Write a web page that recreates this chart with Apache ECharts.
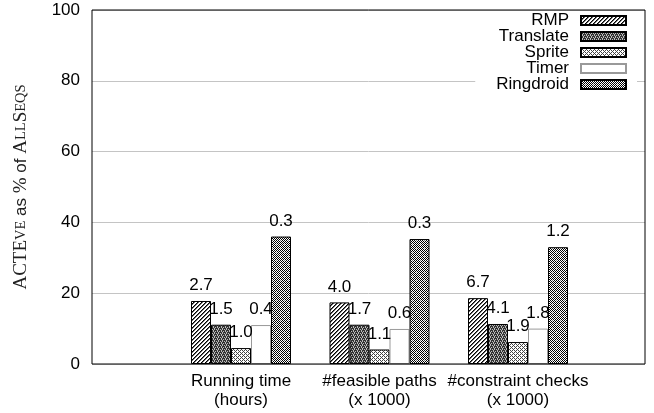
<!DOCTYPE html>
<html><head><meta charset="utf-8">
<script src="https://cdn.jsdelivr.net/npm/echarts@6/dist/echarts.min.js"></script>
<style>html,body{margin:0;padding:0;background:#fff}#c{width:654px;height:413px}</style>
</head><body><div id="c"></div>
<script>
const categories = ['Running time\n(hours)', '#feasible paths\n(x 1000)', '#constraint checks\n(x 1000)'];
const seriesNames = ['RMP', 'Translate', 'Sprite', 'Timer', 'Ringdroid'];
const rmp = [17.8, 17.4, 18.6];
const translate = [11.1, 11.1, 11.3];
const sprite = [4.5, 4.1, 6.2];
const timer = [11.0, 9.9, 10.0];
const ringdroid = [36.0, 35.3, 33.0];
const rmpLabels = ['2.7', '4.0', '6.7'];
const translateLabels = ['1.5', '1.7', '4.1'];
const spriteLabels = ['1.0', '1.1', '1.9'];
const timerLabels = ['0.4', '0.6', '1.8'];
const ringdroidLabels = ['0.3', '0.3', '1.2'];
const yTicks = [0, 20, 40, 60, 80, 100];

function makePattern(size, fn) {
  const cv = document.createElement('canvas');
  cv.width = size; cv.height = size;
  const ctx = cv.getContext('2d');
  ctx.fillStyle = '#fff'; ctx.fillRect(0, 0, size, size);
  for (let y = 0; y < size; y++) for (let x = 0; x < size; x++) {
    const c = fn(x, y);
    if (c) { ctx.fillStyle = c; ctx.fillRect(x, y, 1, 1); }
  }
  return { image: cv, repeat: 'repeat' };
}
const bayer = [[0, 8, 2, 10], [12, 4, 14, 6], [3, 11, 1, 9], [15, 7, 13, 5]];
const patRMP = makePattern(4, (x, y) => { const d = (x + y) % 4; return d === 3 ? '#000' : (d === 0 ? '#666' : null); });
const patTranslate = makePattern(4, (x, y) => {
  const t = ['##.#', '.#.#', '#.##', '#.#.'];
  return t[y][x] === '#' ? '#333' : '#bbb';
});
const patSprite = makePattern(4, (x, y) => (bayer[y][x] < 6 ? '#444' : null));
const patTimer = '#fff';
const patRing = makePattern(8, (x, y) => {
  if ((x === 0 && y === 0) || (x === 4 && y === 4)) return '#777';
  const e = Math.min(x + y, Math.abs(x - 4) + Math.abs(y - 4), Math.abs(x - 8) + Math.abs(y - 8),
                     Math.abs(x - 8) + y, x + Math.abs(y - 8));
  if (e === 1) return null;
  return (x + y) % 2 === 0 ? '#000' : null;
});

const fills = [patRMP, patTranslate, patSprite, patTimer, patRing];
const borders = ['#000', '#000', '#000', '#999', '#000'];
const values = [rmp, translate, sprite, timer, ringdroid];
const labels = [rmpLabels, translateLabels, spriteLabels, timerLabels, ringdroidLabels];

const font = 'Liberation Sans, Arial, sans-serif';
const fs = 17;
const series = seriesNames.map((n, i) => ({
  name: n, type: 'bar', xAxisIndex: 1, yAxisIndex: 1,
  data: values[i], barWidth: 20, barGap: '0%',
  itemStyle: { color: fills[i], borderColor: borders[i], borderWidth: 1 },
  label: { show: true, position: 'top', distance: 7, color: '#000', fontSize: fs, fontFamily: font,
           formatter: p => labels[i][p.dataIndex] },
  animation: false
}));

const legendTops = [11, 27, 43, 59, 71];
const legends = seriesNames.map((n, i) => ({
  data: [{ name: n, icon: 'rect' }], orient: 'vertical', align: 'right', right: i === 4 ? 17 : 27, top: legendTops[i] + 1,
  itemWidth: 45, itemHeight: 9, itemGap: 0,
  padding: i === 4 ? [4, 10, 4, 21] : 0,
  backgroundColor: i === 4 ? '#fff' : 'transparent',
  selectedMode: false,
  textStyle: { fontSize: fs, fontFamily: font, color: '#000', lineHeight: 16, padding: [0, 7, 0, 0] }
}));

const chart = echarts.init(document.getElementById('c'), null, { renderer: 'canvas' });
chart.setOption({
  animation: false,
  backgroundColor: '#fff',
  legend: legends,
  grid: [
    { left: 92, right: 9, top: 10, bottom: 49, show: true, borderColor: '#000', borderWidth: 1, backgroundColor: 'transparent', z: 3 },
    { left: 171.75, right: 66.75, top: 10, bottom: 49 }
  ],
  xAxis: [
    { gridIndex: 0, type: 'category', data: [''], axisLine: { show: false }, axisTick: { show: false }, axisLabel: { show: false } },
    { gridIndex: 1, type: 'category', data: categories, axisLine: { show: false }, axisTick: { show: false },
      axisLabel: { interval: 0, fontSize: fs, fontFamily: font, color: '#000', lineHeight: 19, margin: 8 } }
  ],
  yAxis: [
    { gridIndex: 0, type: 'value', min: yTicks[0], max: yTicks[yTicks.length - 1], interval: 20,
      axisLine: { show: false }, axisTick: { show: false },
      axisLabel: { fontSize: fs, fontFamily: font, color: '#000', margin: 12 },
      splitLine: { show: true, lineStyle: { color: '#c4c4c4', width: 1 } },
      name: '{c|ACTE}{s|VE}{n| as }{c|%}{n| of }{c|A}{s|LL}{c|S}{s|EQS}',
      nameLocation: 'middle', nameRotate: 90, nameGap: 61,
      nameTextStyle: { rich: {
        c: { fontFamily: 'Liberation Serif, serif', fontSize: 19, color: '#222' },
        s: { fontFamily: 'Liberation Serif, serif', fontSize: 14.5, color: '#222' },
        n: { fontFamily: font, fontSize: 17, color: '#222' }
      } } },
    { gridIndex: 1, type: 'value', min: 0, max: 100, interval: 20, show: false, splitLine: { show: false } }
  ],
  series: series
});
</script></body></html>
